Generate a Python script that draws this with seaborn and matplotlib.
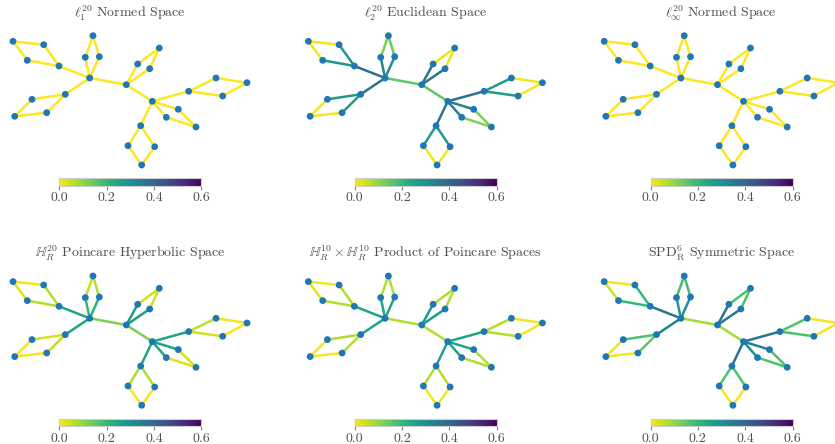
import numpy as np
import pandas as pd
import matplotlib
matplotlib.use("Agg")
import matplotlib.pyplot as plt
import matplotlib as mpl
import seaborn as sns
from matplotlib.collections import LineCollection
from matplotlib.ticker import FormatStrFormatter

sns.set_style("white")
plt.rcParams['font.family'] = ['cmr10']
plt.rcParams['mathtext.fontset'] = 'cm'
plt.rcParams['axes.formatter.use_mathtext'] = True

# node layout (shared by all panels), y grows downward
node_x = [126.3, 89.7, 152.3, 137.7, 149.7, 159.3, 85.3, 99.3, 93.0,
          59.0, 43.7, 27.3, 13.0, 65.3, 32.0, 46.7, 14.7,
          188.7, 216.0, 222.7, 247.0, 178.3, 166.3, 196.0,
          140.7, 128.0, 154.7, 141.7]
node_y = [84.7, 78.0, 101.3, 64.0, 68.7, 48.0, 57.3, 56.7, 35.7,
          66.0, 44.7, 60.3, 41.3, 94.3, 99.3, 112.7, 116.3,
          91.3, 78.0, 96.0, 82.7, 109.3, 117.3, 127.0,
          125.7, 145.7, 146.7, 165.0]

edges = [(0, 1), (0, 2),
         (0, 3), (0, 4), (3, 5), (4, 5),
         (1, 6), (1, 7), (6, 8), (7, 8),
         (1, 9), (9, 10), (9, 11), (10, 12), (11, 12),
         (1, 13), (13, 14), (13, 15), (14, 16), (15, 16),
         (2, 17), (17, 18), (17, 19), (18, 20), (19, 20),
         (2, 21), (2, 22), (21, 23), (22, 23),
         (2, 24), (24, 25), (24, 26), (25, 27), (26, 27)]

titles = [r"$\ell_1^{20}$ Normed Space",
          r"$\ell_2^{20}$ Euclidean Space",
          r"$\ell_\infty^{20}$ Normed Space",
          r"$\mathbb{H}_R^{20}$ Poincare Hyperbolic Space",
          r"$\mathbb{H}_R^{10}\times\mathbb{H}_R^{10}$ Product of Poincare Spaces",
          r"SPD$_\mathrm{R}^6$ Symmetric Space"]

# distortion per edge, same order as edges
dist_l1 = [0.0] * 34
dist_l2 = [0.15, 0.15,
           0.37, 0.36, 0.02, 0.02,
           0.33, 0.30, 0.12, 0.14,
           0.38, 0.28, 0.28, 0.01, 0.01,
           0.37, 0.27, 0.27, 0.01, 0.01,
           0.37, 0.27, 0.27, 0.01, 0.01,
           0.34, 0.34, 0.12, 0.12,
           0.37, 0.27, 0.27, 0.01, 0.01]
dist_linf = [0.0] * 34
dist_hyp = [0.12, 0.12,
            0.27, 0.27, 0.04, 0.04,
            0.20, 0.22, 0.05, 0.07,
            0.25, 0.07, 0.07, 0.01, 0.03,
            0.25, 0.04, 0.06, 0.01, 0.01,
            0.25, 0.06, 0.04, 0.01, 0.01,
            0.25, 0.25, 0.04, 0.03,
            0.25, 0.07, 0.07, 0.01, 0.01]
dist_prod = [0.07, 0.07,
             0.27, 0.27, 0.07, 0.07,
             0.25, 0.25, 0.07, 0.07,
             0.25, 0.07, 0.07, 0.01, 0.02,
             0.25, 0.07, 0.07, 0.01, 0.01,
             0.25, 0.07, 0.07, 0.01, 0.01,
             0.25, 0.25, 0.07, 0.07,
             0.25, 0.07, 0.07, 0.01, 0.01]
dist_spd = [0.08, 0.08,
            0.37, 0.36, 0.17, 0.17,
            0.28, 0.30, 0.18, 0.18,
            0.37, 0.20, 0.20, 0.01, 0.05,
            0.33, 0.17, 0.15, 0.01, 0.01,
            0.37, 0.17, 0.17, 0.01, 0.01,
            0.33, 0.30, 0.17, 0.17,
            0.37, 0.17, 0.17, 0.01, 0.01]
all_dist = [dist_l1, dist_l2, dist_linf, dist_hyp, dist_prod, dist_spd]

nodes = pd.DataFrame({'x': node_x, 'y': node_y})
cmap = plt.get_cmap('viridis_r')
norm = mpl.colors.Normalize(vmin=0.0, vmax=0.6)

W, H = 835, 444
fig = plt.figure(figsize=(W / 100, H / 100), dpi=100)

col_off = [0, 295.4, 591.2]
row_off = [0, 240.3]
text_col = '0.3'

for k in range(6):
    i, j = divmod(k, 3)
    ox, oy = col_off[j], row_off[i]
    ax = fig.add_axes([ox / W, 1 - (oy + 175) / H, 260 / W, 150 / H])
    segs = [[(node_x[u], node_y[u]), (node_x[v], node_y[v])] for u, v in edges]
    lc = LineCollection(segs, colors=cmap(norm(np.array(all_dist[k]))),
                        linewidths=1.8, zorder=1)
    ax.add_collection(lc)
    sns.scatterplot(data=nodes, x='x', y='y', ax=ax, s=24, color='#1f77b4',
                    edgecolor='none', linewidth=0, zorder=3, legend=False)
    ax.set_xlim(0, 260)
    ax.set_ylim(175, 25)
    ax.set_axis_off()
    ax.text(130, 13, titles[k], ha='center', va='center', fontsize=10,
            color=text_col, clip_on=False)

    cax = fig.add_axes([(ox + 59.3) / W, 1 - (oy + 186) / H, 142 / W, 7.5 / H])
    sm = mpl.cm.ScalarMappable(norm=norm, cmap=cmap)
    cb = fig.colorbar(sm, cax=cax, orientation='horizontal')
    cb.set_ticks([0.0, 0.2, 0.4, 0.6])
    cb.ax.xaxis.set_major_formatter(FormatStrFormatter('%.1f'))
    cb.ax.tick_params(length=3, width=0.8, color='0.5', labelsize=10,
                      labelcolor=text_col, pad=1.5)
    cb.outline.set_edgecolor('0.8')
    cb.outline.set_linewidth(0.8)

fig.savefig('out.png', dpi=100)
